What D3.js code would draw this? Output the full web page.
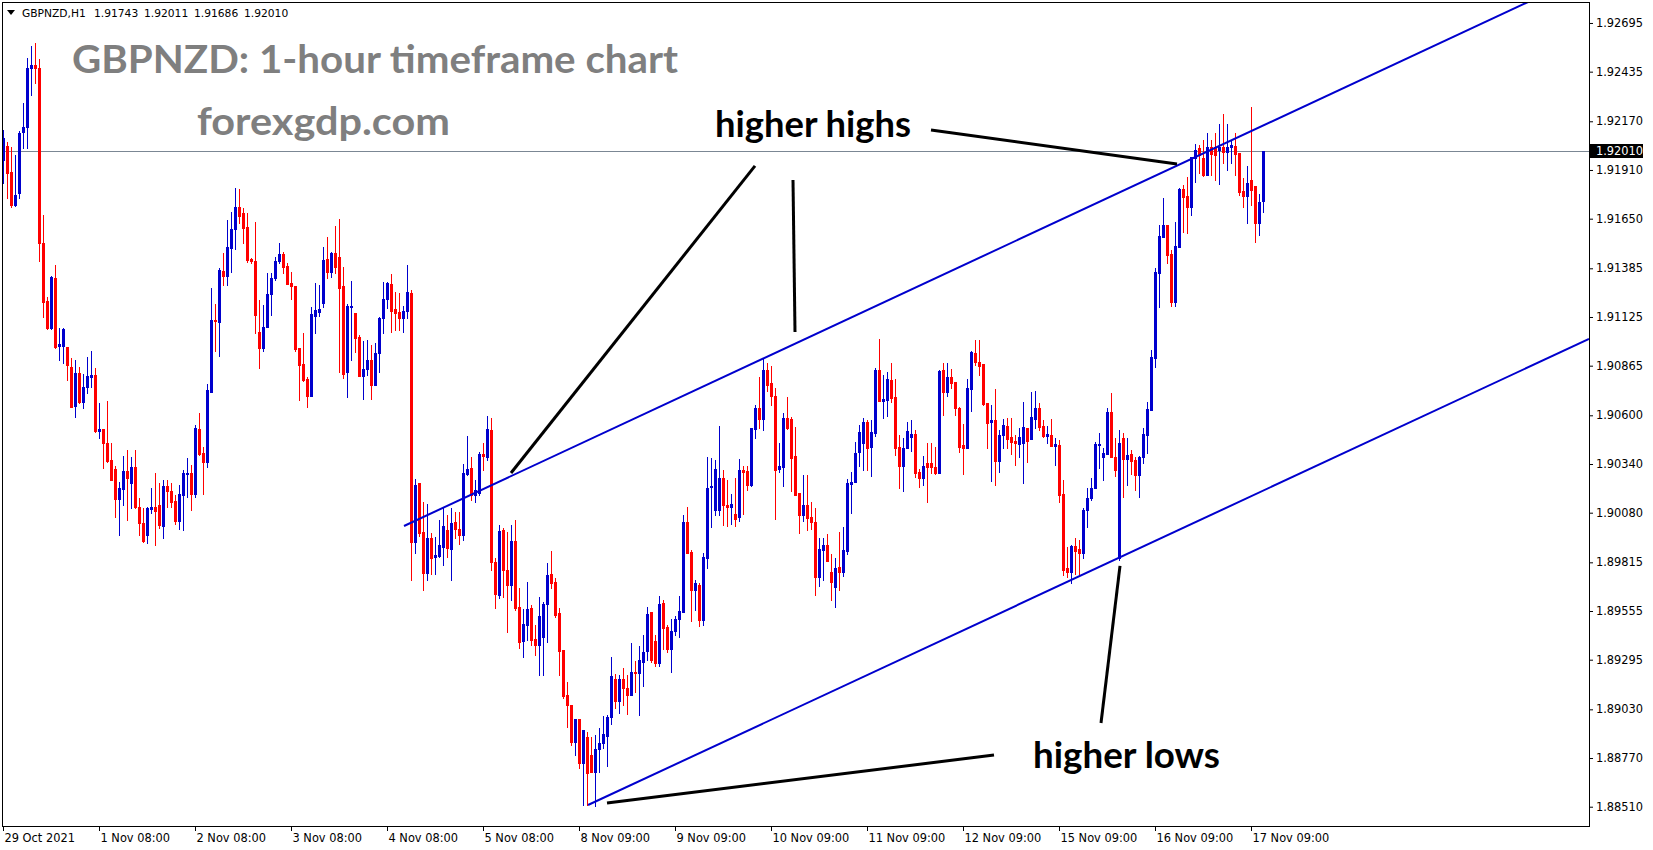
<!DOCTYPE html>
<html><head><meta charset="utf-8">
<script src="https://cdn.jsdelivr.net/npm/d3@7"></script>
<style>
html,body{margin:0;padding:0;background:#fff;}
svg{display:block;}
.ax text{font-family:"DejaVu Sans",sans-serif;font-size:11.4px;fill:#000;}
.ax line{stroke:#000;}
</style></head><body>
<svg id="c" width="1653" height="850"></svg>
<script>
// ---- data (GBPNZD H1, bar 0 = 29 Oct 2021 08:00) ----
const opens=[1.91964,1.92038,1.91899,1.91723,1.91787,1.92113,1.92140,1.92455,1.92471,1.92455,
1.91520,1.91211,1.91066,1.91333,1.90970,1.90970,1.90965,1.90859,1.90650,1.90826,
1.90671,1.90752,1.90805,1.90815,1.90517,1.90527,1.90452,1.90362,1.90314,1.90153,
1.90207,1.90303,1.90239,1.90325,1.90111,1.90025,1.89961,1.90100,1.90111,1.90121,
1.90009,1.90223,1.90196,1.90143,1.90036,1.90174,1.90287,1.90292,1.90180,1.90527,
1.90399,1.90351,1.90724,1.91109,1.91098,1.91371,1.91344,1.91493,1.91595,1.91713,
1.91681,1.91606,1.91435,1.91425,1.91045,1.90959,1.91072,1.91248,1.91333,1.91425,
1.91462,1.91398,1.91307,1.91291,1.90959,1.90875,1.90794,1.90703,1.91131,1.91152,
1.91200,1.91435,1.91365,1.91467,1.91446,1.91291,1.90831,1.91179,1.91147,1.91018,
1.90810,1.90848,1.90896,1.90762,1.90933,1.91120,1.91221,1.91302,1.91168,1.91152,
1.91120,1.91157,1.91253,1.89923,1.90239,1.89977,1.89758,1.89945,1.89844,1.89849,
1.89897,1.89988,1.89886,1.90030,1.89993,1.89961,1.90287,1.90319,1.90174,1.90185,
1.90394,1.90378,1.90522,1.89817,1.89640,1.89988,1.89774,1.89694,1.89929,1.89577,
1.89395,1.89481,1.89571,1.89406,1.89373,1.89416,1.89593,1.89753,1.89710,1.89545,
1.89347,1.89106,1.89053,1.88856,1.88979,1.88744,1.88883,1.88786,1.88695,1.88818,
1.88850,1.88888,1.88989,1.89192,1.89075,1.89192,1.89144,1.89106,1.89229,1.89224,
1.89283,1.89341,1.89550,1.89395,1.89278,1.89598,1.89470,1.89352,1.89448,1.89512,
1.89550,1.90030,1.89870,1.89667,1.89694,1.89507,1.89838,1.90217,1.90095,1.90095,
1.90265,1.90121,1.90111,1.90073,1.90057,1.90308,1.90303,1.90228,1.90527,1.90639,
1.90580,1.90842,1.90773,1.90703,1.90314,1.90325,1.90586,1.90580,1.90383,1.90185,
1.90068,1.90121,1.90057,1.90030,1.89737,1.89881,1.89907,1.89763,1.89683,1.89790,
1.89763,1.89876,1.90233,1.90244,1.90404,1.90452,1.90564,1.90431,1.90506,1.90842,
1.90677,1.90682,1.90789,1.90698,1.90431,1.90330,1.90426,1.90484,1.90500,1.90297,
1.90265,1.90346,1.90346,1.90325,1.90292,1.90842,1.90724,1.90805,1.90778,1.90639,
1.90441,1.90426,1.90741,1.90933,1.90885,1.90875,1.90666,1.90564,1.90575,1.90357,
1.90495,1.90543,1.90484,1.90463,1.90447,1.90452,1.90532,1.90474,1.90580,1.90639,
1.90543,1.90490,1.90495,1.90436,1.90441,1.90180,1.89785,1.89763,1.89902,1.89886,
1.89865,1.90095,1.90158,1.90212,1.90441,1.90378,1.90394,1.90618,1.90378,1.89838,
1.90479,1.90367,1.90394,1.90362,1.90281,1.90378,1.90495,1.90629,1.90906,1.91360,
1.91553,1.91617,1.91462,1.91205,1.91499,1.91809,1.91771,1.91713,1.91974,1.92027,
1.91974,1.91884,1.92033,1.92033,1.92017,1.92033,1.92006,1.92033,1.92038,1.92001,
1.91798,1.91771,1.91857,1.91825,1.91627,1.91743];

const highs=[1.92124,1.92059,1.92033,1.91990,1.92119,1.92268,1.92508,1.92572,1.92588,1.92503,
1.91670,1.91232,1.91344,1.91403,1.91066,1.91066,1.90965,1.90906,1.90896,1.90859,
1.90821,1.90912,1.90944,1.90853,1.90666,1.90527,1.90677,1.90452,1.90330,1.90244,
1.90383,1.90415,1.90378,1.90415,1.90158,1.90105,1.90111,1.90212,1.90292,1.90239,
1.90255,1.90255,1.90239,1.90174,1.90228,1.90308,1.90372,1.90335,1.90548,1.90613,
1.90431,1.90768,1.91280,1.91195,1.91387,1.91467,1.91643,1.91686,1.91814,1.91809,
1.91707,1.91681,1.91440,1.91632,1.91216,1.91189,1.91360,1.91360,1.91446,1.91520,
1.91472,1.91414,1.91365,1.91291,1.90959,1.91040,1.90805,1.91179,1.91307,1.91296,
1.91499,1.91553,1.91472,1.91611,1.91649,1.91393,1.91195,1.91318,1.91147,1.91029,
1.90997,1.91002,1.90975,1.90986,1.91126,1.91312,1.91312,1.91355,1.91259,1.91253,
1.91184,1.91403,1.91269,1.90260,1.90239,1.90137,1.90127,1.89972,1.89950,1.90041,
1.90111,1.90068,1.90105,1.90084,1.90084,1.90341,1.90490,1.90378,1.90255,1.90404,
1.90452,1.90597,1.90586,1.89838,1.90014,1.89998,1.89977,1.90014,1.90041,1.89678,
1.89566,1.89710,1.89587,1.89481,1.89630,1.89603,1.89812,1.89875,1.89731,1.89571,
1.89347,1.89176,1.89053,1.88979,1.88979,1.88920,1.88909,1.88883,1.88893,1.88930,
1.88995,1.89000,1.89310,1.89219,1.89213,1.89251,1.89213,1.89384,1.89288,1.89368,
1.89427,1.89577,1.89550,1.89427,1.89635,1.89614,1.89481,1.89512,1.89529,1.89635,
1.90068,1.90111,1.89881,1.89721,1.89705,1.89865,1.90378,1.90372,1.90362,1.90543,
1.90308,1.90255,1.90180,1.90265,1.90367,1.90330,1.90330,1.90532,1.90655,1.90805,
1.90901,1.90880,1.90864,1.90746,1.90452,1.90613,1.90698,1.90591,1.90538,1.90185,
1.90281,1.90281,1.90137,1.90105,1.89945,1.89945,1.89966,1.89860,1.89838,1.89977,
1.90004,1.90260,1.90297,1.90457,1.90548,1.90586,1.90575,1.90575,1.90853,1.91008,
1.90815,1.90831,1.90880,1.90794,1.90495,1.90479,1.90564,1.90575,1.90522,1.90314,
1.90383,1.90452,1.90452,1.90431,1.90842,1.90880,1.90880,1.90848,1.90778,1.90645,
1.90554,1.90794,1.90944,1.91002,1.91002,1.90875,1.90666,1.90655,1.90741,1.90522,
1.90580,1.90586,1.90586,1.90495,1.90532,1.90671,1.90532,1.90724,1.90730,1.90666,
1.90575,1.90543,1.90580,1.90479,1.90468,1.90255,1.89897,1.89907,1.89945,1.89934,
1.90105,1.90212,1.90265,1.90457,1.90506,1.90426,1.90639,1.90719,1.90479,1.90522,
1.90506,1.90479,1.90415,1.90378,1.90383,1.90532,1.90671,1.90949,1.91387,1.91617,
1.91760,1.91617,1.91483,1.91632,1.91814,1.91830,1.91873,1.91980,1.92049,1.92043,
1.92070,1.92108,1.92070,1.92108,1.92156,1.92209,1.92156,1.92070,1.92108,1.92001,
1.91867,1.91932,1.92246,1.91825,1.91782,1.92011];

const lows=[1.91841,1.91760,1.91713,1.91718,1.91760,1.92027,1.92027,1.92310,1.92375,1.91425,
1.91126,1.91061,1.91061,1.90959,1.90896,1.90880,1.90789,1.90645,1.90592,1.90666,
1.90639,1.90719,1.90752,1.90511,1.90479,1.90319,1.90351,1.90255,1.90058,1.89961,
1.90121,1.90041,1.90105,1.90105,1.89961,1.89923,1.89918,1.90079,1.89907,1.89998,
1.89945,1.90111,1.90111,1.90020,1.89993,1.89988,1.90164,1.90095,1.90164,1.90388,
1.90180,1.90325,1.90724,1.90944,1.90917,1.91296,1.91296,1.91365,1.91488,1.91627,
1.91520,1.91419,1.91414,1.91040,1.90853,1.90944,1.91072,1.91136,1.91323,1.91414,
1.91360,1.91302,1.91221,1.90944,1.90682,1.90784,1.90645,1.90703,1.91040,1.91131,
1.91179,1.91333,1.91339,1.91360,1.90831,1.90799,1.90698,1.90896,1.90938,1.90810,
1.90687,1.90815,1.90687,1.90762,1.90831,1.91040,1.91173,1.91045,1.91056,1.91056,
1.91045,1.91120,1.89721,1.89865,1.89956,1.89667,1.89721,1.89753,1.89753,1.89844,
1.89801,1.89844,1.89721,1.89945,1.89913,1.89934,1.90281,1.90148,1.90137,1.90174,
1.90308,1.90362,1.89774,1.89571,1.89624,1.89630,1.89443,1.89614,1.89561,1.89357,
1.89310,1.89400,1.89373,1.89320,1.89213,1.89213,1.89389,1.89678,1.89523,1.89213,
1.89090,1.88936,1.88840,1.88786,1.88717,1.88520,1.88520,1.88695,1.88514,1.88695,
1.88824,1.88728,1.88952,1.89037,1.89011,1.89053,1.89005,1.89106,1.89122,1.89000,
1.89155,1.89294,1.89283,1.89262,1.89262,1.89352,1.89336,1.89229,1.89427,1.89416,
1.89550,1.89865,1.89502,1.89561,1.89475,1.89481,1.89785,1.90004,1.90068,1.90068,
1.90014,1.90009,1.90020,1.90009,1.90036,1.90073,1.90201,1.90223,1.90479,1.90532,
1.90522,1.90730,1.90655,1.90046,1.90297,1.90223,1.90527,1.90196,1.90174,1.89972,
1.90036,1.89988,1.89993,1.89640,1.89689,1.89721,1.89822,1.89614,1.89577,1.89667,
1.89742,1.89860,1.90079,1.90244,1.90330,1.90308,1.90308,1.90276,1.90490,1.90677,
1.90586,1.90597,1.90671,1.90388,1.90212,1.90196,1.90426,1.90410,1.90271,1.90217,
1.90228,1.90137,1.90292,1.90287,1.90292,1.90602,1.90703,1.90746,1.90602,1.90404,
1.90287,1.90426,1.90623,1.90869,1.90815,1.90655,1.90426,1.90249,1.90228,1.90297,
1.90426,1.90426,1.90394,1.90335,1.90378,1.90239,1.90351,1.90474,1.90532,1.90522,
1.90484,1.90452,1.90436,1.90335,1.90137,1.89747,1.89737,1.89705,1.89753,1.89753,
1.89838,1.90004,1.90148,1.90212,1.90319,1.90255,1.90394,1.90378,1.90276,1.89828,
1.90164,1.90228,1.90287,1.90201,1.90164,1.90346,1.90399,1.90629,1.90859,1.91179,
1.91553,1.91414,1.91184,1.91184,1.91499,1.91579,1.91574,1.91670,1.91846,1.91894,
1.91878,1.91884,1.91884,1.91857,1.91835,1.91948,1.91910,1.91948,1.91884,1.91776,
1.91713,1.91627,1.91723,1.91525,1.91563,1.91686];

const closes=[1.92081,1.91894,1.91723,1.91776,1.92108,1.92140,1.92455,1.92471,1.92455,1.91520,
1.91205,1.91066,1.91339,1.90965,1.90981,1.91061,1.90869,1.90645,1.90826,1.90671,
1.90752,1.90810,1.90815,1.90517,1.90527,1.90452,1.90357,1.90255,1.90153,1.90212,
1.90303,1.90265,1.90325,1.90111,1.90025,1.89929,1.90105,1.90111,1.90090,1.90014,
1.90223,1.90196,1.90137,1.90036,1.90180,1.90292,1.90292,1.90180,1.90532,1.90394,
1.90351,1.90735,1.91109,1.91104,1.91376,1.91344,1.91499,1.91595,1.91713,1.91665,
1.91600,1.91430,1.91425,1.91136,1.90959,1.91072,1.91248,1.91333,1.91425,1.91462,
1.91393,1.91302,1.91291,1.90954,1.90869,1.90789,1.90703,1.91142,1.91163,1.91168,
1.91430,1.91365,1.91467,1.91393,1.91280,1.90821,1.91184,1.91184,1.91013,1.90810,
1.90848,1.90896,1.90762,1.90933,1.91120,1.91221,1.91307,1.91157,1.91147,1.91120,
1.91157,1.91259,1.89923,1.90228,1.89972,1.89758,1.89945,1.89838,1.89854,1.89907,
1.90009,1.89891,1.90025,1.89993,1.89961,1.90292,1.90314,1.90174,1.90201,1.90394,
1.90383,1.90527,1.89817,1.89646,1.89982,1.89774,1.89694,1.89929,1.89571,1.89389,
1.89486,1.89566,1.89400,1.89373,1.89529,1.89593,1.89747,1.89705,1.89534,1.89341,
1.89101,1.89053,1.88856,1.88979,1.88744,1.88920,1.88690,1.88695,1.88818,1.88850,
1.88898,1.88989,1.89208,1.89075,1.89192,1.89144,1.89106,1.89229,1.89224,1.89294,
1.89336,1.89539,1.89294,1.89278,1.89593,1.89465,1.89352,1.89448,1.89512,1.89555,
1.90030,1.89865,1.89667,1.89705,1.89507,1.89844,1.90212,1.90223,1.90314,1.90265,
1.90121,1.90111,1.90127,1.90046,1.90308,1.90297,1.90228,1.90532,1.90639,1.90580,
1.90842,1.90762,1.90703,1.90308,1.90330,1.90586,1.90532,1.90372,1.90174,1.90068,
1.90121,1.90052,1.90030,1.89737,1.89886,1.89907,1.89822,1.89710,1.89785,1.89763,
1.89881,1.90239,1.90244,1.90399,1.90511,1.90564,1.90426,1.90511,1.90842,1.90677,
1.90687,1.90794,1.90693,1.90426,1.90330,1.90426,1.90517,1.90500,1.90292,1.90265,
1.90330,1.90325,1.90325,1.90292,1.90837,1.90724,1.90805,1.90773,1.90639,1.90431,
1.90426,1.90746,1.90938,1.90885,1.90864,1.90661,1.90559,1.90575,1.90357,1.90495,
1.90548,1.90474,1.90457,1.90452,1.90484,1.90538,1.90463,1.90591,1.90639,1.90538,
1.90490,1.90500,1.90436,1.90447,1.90174,1.89774,1.89763,1.89902,1.89876,1.89865,
1.90095,1.90158,1.90212,1.90447,1.90447,1.90399,1.90618,1.90378,1.90308,1.90452,
1.90367,1.90388,1.90357,1.90281,1.90378,1.90500,1.90634,1.90912,1.91365,1.91558,
1.91617,1.91456,1.91205,1.91504,1.91809,1.91766,1.91713,1.91980,1.92017,1.91990,
1.91884,1.92033,1.91996,1.91990,1.92033,1.92006,1.92033,1.92043,1.91996,1.91792,
1.91771,1.91841,1.91803,1.91627,1.91739,1.92010];

const yTickValues=[1.92695,1.92435,1.92170,1.91910,1.91650,1.91385,1.91125,1.90865,1.90600,
1.90340,1.90080,1.89815,1.89555,1.89295,1.89030,1.88770,1.88510];
const xTickBars=[0,24,48,72,96,120,144,168,192,216,240,264,288,312];
const xTickLabels=["29 Oct 2021","1 Nov 08:00","2 Nov 08:00","3 Nov 08:00","4 Nov 08:00","5 Nov 08:00",
"8 Nov 09:00","9 Nov 09:00","10 Nov 09:00","11 Nov 09:00","12 Nov 09:00","15 Nov 09:00","16 Nov 09:00","17 Nov 09:00"];
const symbolLabel="GBPNZD,H1";
const lastQuote=["1.91743","1.92011","1.91686","1.92010"];
const bidPrice=1.92010;
const titleText="GBPNZD: 1-hour timeframe chart";
const siteText="forexgdp.com";
// trend channel anchors [bar index, price]
const channelUpper=[[100.25,1.90009],[381.25,1.92807]];
const channelLower=[[146.25,1.88519],[396.5,1.91008]];
// pointer lines [bar index, price]
const pointerLines=[
  [[232,1.92124],[293.5,1.91942]],
  [[188,1.91932],[127,1.90292]],
  [[197.5,1.91857],[198,1.91045]],
  [[279.25,1.89796],[274.5,1.88957]],
  [[247.75,1.88786],[151,1.88530]]
];
const notes=[{text:"higher highs",bar:178,price:1.92086,len:196},{text:"higher lows",bar:257.5,price:1.88717,len:187}];

// ---- drawing ----
const W=1653,H=850;
const x=d3.scaleLinear().domain([0,396.5]).range([3,1589]);
const y=d3.scaleLinear().domain([1.88407,1.92807]).range([826,2]);
const svg=d3.select("#c");
svg.append("rect").attr("width",W).attr("height",H).attr("fill","#fff");
svg.append("defs").append("clipPath").attr("id","clip").append("rect")
  .attr("x",2).attr("y",2).attr("width",1587).attr("height",824);

// watermark texts
svg.append("text").attr("x",72).attr("y",73).text(titleText)
  .attr("font-family","Lato, 'Open Sans', sans-serif").attr("font-weight","bold").attr("font-size",39)
  .attr("fill","#7f7f7f").attr("textLength",606).attr("lengthAdjust","spacingAndGlyphs");
svg.append("text").attr("x",197).attr("y",135).text(siteText)
  .attr("font-family","Lato, 'Open Sans', sans-serif").attr("font-weight","bold").attr("font-size",39)
  .attr("fill","#7f7f7f").attr("textLength",253).attr("lengthAdjust","spacingAndGlyphs");

// bid line
svg.append("line").attr("x1",2).attr("x2",1589).attr("y1",Math.round(y(bidPrice))+0.5).attr("y2",Math.round(y(bidPrice))+0.5)
  .attr("stroke","#7b8794").attr("stroke-width",1);

// candles
const idx=d3.range(opens.length);
const col=i=>closes[i]>=opens[i]?"#0000CD":"#FF0000";
const cg=svg.append("g").attr("clip-path","url(#clip)").attr("shape-rendering","crispEdges");
cg.selectAll("rect.w").data(idx).join("rect").attr("class","w")
  .attr("x",i=>Math.round(x(i))).attr("width",1)
  .attr("y",i=>Math.round(y(highs[i])))
  .attr("height",i=>Math.max(1,Math.round(y(lows[i]))-Math.round(y(highs[i]))+1))
  .attr("fill",col);
cg.selectAll("rect.b").data(idx).join("rect").attr("class","b")
  .attr("x",i=>Math.round(x(i))-1).attr("width",3)
  .attr("y",i=>Math.round(y(Math.max(opens[i],closes[i]))))
  .attr("height",i=>Math.max(1,Math.round(y(Math.min(opens[i],closes[i])))-Math.round(y(Math.max(opens[i],closes[i])))+1))
  .attr("fill",col);

// lines
const lg=svg.append("g").attr("clip-path","url(#clip)");
const ln=d3.line().x(d=>x(d[0])).y(d=>y(d[1]));
[channelUpper,channelLower].forEach(c=>lg.append("path").attr("d",ln(c)).attr("fill","none").attr("stroke","#0000CD").attr("stroke-width",2));
pointerLines.forEach(p=>lg.append("path").attr("d",ln(p)).attr("fill","none").attr("stroke","#000").attr("stroke-width",3));

// notes
notes.forEach(n=>svg.append("text").attr("x",x(n.bar)).attr("y",y(n.price)).text(n.text)
  .attr("font-family","Lato, 'Open Sans', sans-serif").attr("font-weight","bold").attr("font-size",36)
  .attr("fill","#000").attr("textLength",n.len).attr("lengthAdjust","spacingAndGlyphs"));

// frame
svg.append("rect").attr("x",2.5).attr("y",2.5).attr("width",1587).attr("height",824)
  .attr("fill","none").attr("stroke","#000").attr("stroke-width",1);

// axes
const yAxis=d3.axisRight(y).tickValues(yTickValues).tickFormat(d=>d.toFixed(5)).tickSize(4).tickPadding(3);
svg.append("g").attr("class","ax").attr("transform","translate(1589,0)").call(yAxis)
  .call(g=>g.select(".domain").remove());
const xAxis=d3.axisBottom(x).tickValues(xTickBars).tickFormat((d,i)=>xTickLabels[i]).tickSize(5).tickPadding(3);
svg.append("g").attr("class","ax").attr("transform","translate(0,826)").call(xAxis)
  .call(g=>g.select(".domain").remove())
  .call(g=>g.selectAll("text").attr("text-anchor","start").attr("dx",1));

// price label
const by=Math.round(y(bidPrice));
svg.append("rect").attr("x",1590).attr("y",by-7).attr("width",53).attr("height",14).attr("fill","#000");
svg.append("text").attr("x",1596).attr("y",by).attr("dy","0.35em").text(bidPrice.toFixed(5))
  .attr("font-family","DejaVu Sans, sans-serif").attr("font-size",11.4).attr("fill","#fff");

// header
svg.append("path").attr("d","M7,10L15,10L11,15Z").attr("fill","#000");
const hf="DejaVu Sans, sans-serif";
svg.append("text").attr("x",22).attr("y",17).text(symbolLabel).attr("font-family",hf).attr("font-size",10.7).attr("fill","#000");
lastQuote.forEach((q,i)=>svg.append("text").attr("x",94+50*i).attr("y",17).text(q).attr("font-family",hf).attr("font-size",10.7).attr("fill","#000"));
</script>
</body></html>
